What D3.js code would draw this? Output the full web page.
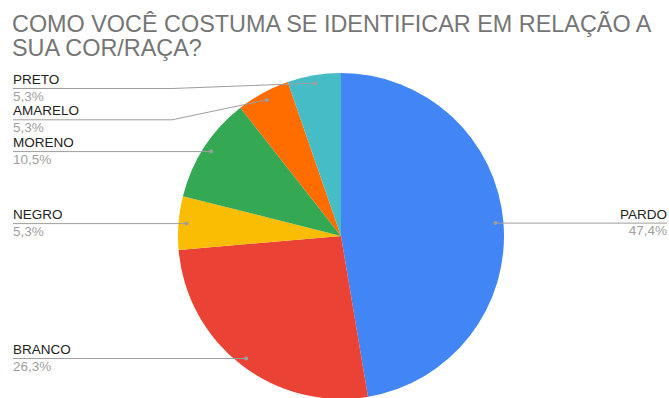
<!DOCTYPE html>
<meta charset="utf-8">
<script src="https://d3js.org/d3.v7.min.js"></script>
<style>
  body { margin: 0; background: #fff; }
  text { font-family: "Liberation Sans", Arial, sans-serif; }
</style>
<div id="chart"></div>
<script>

// data (clockwise from 12 o'clock)
var categories = ["PARDO", "BRANCO", "NEGRO", "MORENO", "AMARELO", "PRETO"];
var values = [47.4, 26.3, 5.3, 10.5, 5.3, 5.3];
var valueLabels = ["47,4%", "26,3%", "5,3%", "10,5%", "5,3%", "5,3%"];
var colors = ["#4285f4", "#ea4335", "#fbbc04", "#34a853", "#ff6d01", "#46bdc6"];
var titleLines = ["COMO VOCÊ COSTUMA SE IDENTIFICAR EM RELAÇÃO A", "SUA COR/RAÇA?"];

var width = 669, height = 398;
var cx = 341, cy = 236, radius = 163;

var svg = d3.select("#chart")
  .append("svg")
    .attr("width", width)
    .attr("height", height);

// title
svg.append("text")
  .attr("x", 12)
  .attr("y", 32)
  .attr("fill", "#757575")
  .style("font-size", "23.4px")
  .selectAll("tspan")
  .data(titleLines)
  .enter().append("tspan")
    .attr("x", 12)
    .attr("dy", function(d, i) { return i ? 24 : 0; })
    .text(function(d) { return d; });

var data = categories.map(function(c, i) {
  return { name: c, value: values[i], label: valueLabels[i], color: colors[i] };
});

var pie = d3.pie().sort(null).value(function(d) { return d.value; });
var arcs = pie(data);

var arc = d3.arc().innerRadius(0).outerRadius(radius);
var dotArc = d3.arc().innerRadius(155).outerRadius(155);

var g = svg.append("g")
  .attr("transform", "translate(" + cx + "," + cy + ")");

g.selectAll("path")
  .data(arcs)
  .enter().append("path")
    .attr("d", arc)
    .attr("fill", function(d) { return d.data.color; });

// label layout: left side stacked downward from a top limit
arcs.forEach(function(d) {
  var c = dotArc.centroid(d);
  d.dx = cx + c[0];
  d.dy = cy + c[1];
  d.left = c[0] < 0;
});

var left = arcs.filter(function(d) { return d.left; })
  .sort(function(a, b) { return a.dy - b.dy; });
var prev = 88.5 - 31.3;
left.forEach(function(d) {
  d.ly = Math.max(d.dy, prev + 31.3);
  prev = d.ly;
});
arcs.filter(function(d) { return !d.left; }).forEach(function(d) { d.ly = d.dy; });

var labels = svg.append("g");

labels.selectAll("path")
  .data(arcs)
  .enter().append("path")
    .attr("fill", "none")
    .attr("stroke", "#9e9e9e")
    .attr("stroke-width", 1)
    .attr("d", function(d) {
      if (d.left) {
        return "M13," + d.ly + "L172," + d.ly + "L" + d.dx + "," + d.dy;
      }
      return "M" + d.dx + "," + d.dy + "L667," + d.ly;
    });

labels.selectAll("circle")
  .data(arcs)
  .enter().append("circle")
    .attr("cx", function(d) { return d.dx; })
    .attr("cy", function(d) { return d.dy; })
    .attr("r", 2)
    .attr("fill", "#9e9e9e");

labels.selectAll(".name")
  .data(arcs)
  .enter().append("text")
    .attr("class", "name")
    .attr("x", function(d) { return d.left ? 13 : 667; })
    .attr("y", function(d) { return d.ly - 4.5; })
    .attr("text-anchor", function(d) { return d.left ? "start" : "end"; })
    .attr("fill", "#222")
    .style("font-size", "13.5px")
    .text(function(d) { return d.data.name; });

labels.selectAll(".pct")
  .data(arcs)
  .enter().append("text")
    .attr("class", "pct")
    .attr("x", function(d) { return d.left ? 13 : 667; })
    .attr("y", function(d) { return d.ly + 12; })
    .attr("text-anchor", function(d) { return d.left ? "start" : "end"; })
    .attr("fill", "#a0a0a0")
    .style("font-size", "13.5px")
    .text(function(d) { return d.data.label; });

</script>
